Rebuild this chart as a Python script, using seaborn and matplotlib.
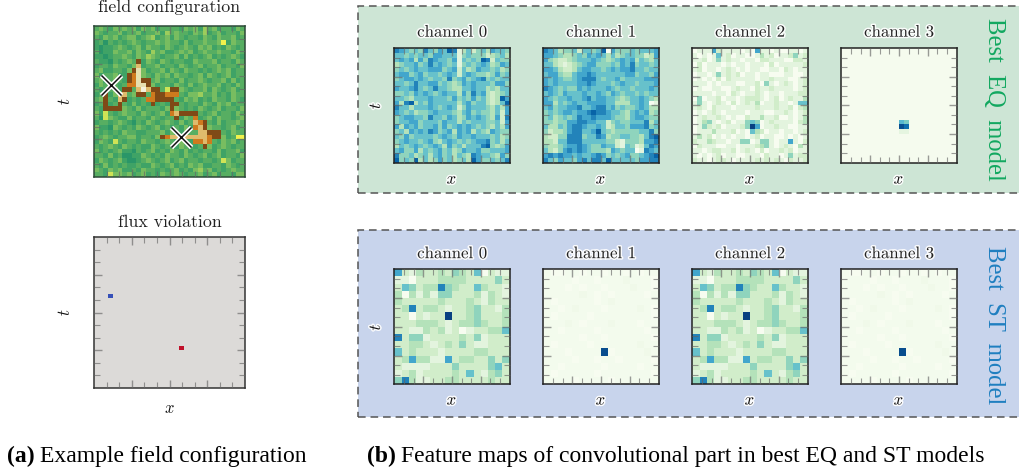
import numpy as np
import matplotlib
matplotlib.use("Agg")
import matplotlib.pyplot as plt
import matplotlib.patheffects as pe
from matplotlib.colors import ListedColormap
from matplotlib.patches import Rectangle
import seaborn as sns

W, H = 1019, 475

# ---------- data (level codes per cell) ----------
FIELD_LEVELS = "0123456botpw"
FIELD_COLORS = ["#2a9668", "#3fa366", "#57ae62", "#78bd60", "#9ccd5c", "#cfe356", "#f0f24c",
                "#7f4a17", "#cf7a1e", "#dfbb6c", "#e6e0b0", "#f4f2dc"]
FIELD = [
    "23213232 31323122 22132314 23122132",
    "32122312 23122314 23221324 12312213",
    "21323123 31234123 13212213 21322312",
    "12021212 32122323 22131223 22361322",
    "10112321 23132213 21232132 31213212",
    "20113223 13214231 12323123 22322132",
    "11012232 13243212 23131212 31212321",
    "21102123 2b132132 12211322 23122132",
    "12213221 3t122312 21321231 22312213",
    "23112213 bp312231 32132212 12323122",
    "3122311b op321323 13221231 32123122",
    "2312321b opbb2312 21312232 12231312",
    "1323212o oppb3122 13213123 22312132",
    "212231bb 2twtbb25 bb321223 13212312",
    "12b13tt2 3bb2obbo oo213342 23121322",
    "23b21tb1 212oobbb b2132312 13221321",
    "12b12b21 3121b121 bb212213 21323122",
    "21bbbb32 13122213 b3212132 12312213",
    "31521232 21321231 otbbbb21 23122132",
    "20532113 12213212 2b132o12 31322123",
    "12212321 02132123 21312tob 21312232",
    "31103212 13212312 12131otb 32212312",
    "21212132 21122231 321322tt bbb21322",
    "12321223 312213bo tttttttt obb31266",
    "13215212 21322123 21321oot o2132312",
    "21232132 12113212 2132212b 31232122",
    "31212311 02123121 32131212 21312231",
    "22131200 11321213 22132123 12312213",
    "13212310 01232123 12312212 21253122",
    "21312121 12113212 31213231 12213212",
    "32132311 21322121 23121342 31212322",
    "22153323 12312132 23212231 23122133",
]
DEFECTS_COL = [3.5, 18.45]
DEFECTS_ROW = [12.5, 23.5]

FLUX_SIZE = 32
FLUX_CELLS = [(12, 3, -1), (23, 18, 1)]
FLUX_COLORS = ["#3650b8", "#dcdad8", "#c0102a"]

EQ_CH0 = [
    "765454 754658 713524 536554", "554545 546655 514544 423453",
    "565636 476554 615454 872544", "345564 575654 514545 653465",
    "454565 566645 625346 554534", "566456 455456 525654 434645",
    "456656 545547 456456 745455", "554575 566454 346565 554664",
    "655675 457554 335565 534355", "445465 654565 536475 632345",
    "554355 565554 645464 532386", "637835 465555 535645 532358",
    "755355 565456 524655 543536", "654534 456555 435645 443526",
    "456655 475546 534656 543627", "455664 555465 535455 544526",
    "636564 556464 565654 543536", "453656 576456 365635 436544",
    "546455 554565 465565 554534", "456554 564356 545456 674535",
    "354565 456536 453555 784346", "564463 545645 346556 445556",
    "744534 535645 354376 554364", "845483 534645 345386 445457",
]
EQ_CH1 = [
    "765344 525545 806444 545556", "665433 454656 535345 544236",
    "643223 455565 434565 635435", "553212 345664 445465 745545",
    "665322 356655 456566 755455", "566433 566765 555556 645546",
    "656544 567775 455645 555666", "656555 566765 554565 545556",
    "765454 465655 565455 455565", "565465 556556 546545 545455",
    "654556 556756 655434 556543", "663545 655666 655333 556501",
    "564556 675567 756454 456533", "454566 566787 765543 565634",
    "453454 576676 665443 566544", "443446 677665 524544 555735",
    "533546 776556 523554 666745", "423346 775568 543444 445574",
    "322447 774557 634455 443578", "332557 775555 544214 443667",
    "433456 676544 655215 412576", "532467 676544 436545 501765",
    "676766 565567 645456 445678", "754655 467577 585555 546677",
]
EQ_CH2 = [
    "011162 111101 061101 001101", "101015 120110 013120 112412",
    "112014 121101 102211 100221", "020111 010110 111020 111112",
    "120110 121010 110011 021011", "011014 121201 101100 011001",
    "010102 021111 101121 110012", "111010 111001 120410 121012",
    "010011 001211 021121 111012", "111101 102101 121011 011122",
    "040112 011012 221012 012113", "141012 102012 130112 110155",
    "121021 110111 121112 112023", "010121 011110 111001 121012",
    "012112 101002 113112 001013", "013410 120114 540121 111023",
    "014212 011124 960112 110011", "011131 112010 532011 011012",
    "131201 010110 120110 010101", "211321 101144 014410 116102",
    "021110 011011 123410 121031", "110122 112012 102011 212011",
    "101012 011001 110211 014122", "211012 210111 121212 102112",
]
EQ_CH3_SIZE = 24
EQ_CH3_BASE = 0.015
EQ_CH3_CELLS = [(16, 12, 0.95), (16, 13, 0.85), (15, 12, 0.6), (15, 13, 0.5), (17, 12, 0.1), (17, 13, 0.1)]

ST_CH0 = [
    "6213 2232 4325 0211", "1102 2233 3322 2242", "2542 3374 3225 3221", "3031 3144 2223 1321",
    "3222 2232 2232 1322", "2372 3321 2234 2213", "2202 1229 2234 2223", "2223 3321 2334 3223",
    "2211 3231 2012 2335", "7244 1222 2324 1222", "2233 2123 2421 1222", "5232 2212 2223 3222",
    "2363 3116 2332 2424", "2111 1222 4222 2452", "1231 2222 3252 1342", "4731 1223 3222 2322",
]
ST_CH1 = [
    "1001 1011 0110 1011", "1111 0110 1112 1110", "1110 1011 0111 2110", "1111 1210 1011 1101",
    "1011 1110 1211 1111", "1101 2111 0111 1210", "1011 1101 1111 1110", "1112 1011 1211 1011",
    "1101 1110 1111 1101", "1111 1011 0111 1110", "1011 1101 1111 1211", "1110 1111 x011 1121",
    "1111 0110 1101 1110", "1101 1111 0111 1011", "1011 1110 1111 1110", "1111 0111 1011 1111",
]
ST_CH3 = ST_CH1
PEAK_VALUE = 0.96
FAINT_STEP = 0.02

TITLES = ["channel 0", "channel 1", "channel 2", "channel 3"]


def grid(rows, scale=1 / 9.0):
    out = []
    for r in rows:
        out.append([PEAK_VALUE if c == "x" else int(c) * scale for c in r.replace(" ", "")])
    return np.array(out, dtype=float)


def field_grid(rows):
    return np.array([[FIELD_LEVELS.index(c) for c in r.replace(" ", "")] for r in rows])


# ---------- layout helpers (pixels, origin top left) ----------
def rect_px(x0, y0, x1, y1):
    return [x0 / W, 1 - y1 / H, (x1 - x0) / W, (y1 - y0) / H]


def ftext(x, y, s, **kw):
    return fig.text(x / W, 1 - y / H, s, **kw)


sns.set_theme(style="white")
plt.rcParams["font.family"] = ["cmr10", "DejaVu Serif"]
plt.rcParams["mathtext.fontset"] = "cm"
plt.rcParams["axes.formatter.use_mathtext"] = True

fig = plt.figure(figsize=(W / 100, H / 100), dpi=100, facecolor="white")

halo = [pe.withStroke(linewidth=2.2, foreground="white", alpha=0.9)]
TITLE_FS = 12.1
SIDE_TITLE_FS = 12.9
LABEL_FS = 12

# band backgrounds
for (y0, y1, col) in [(5.5, 193, "#cde5d5"), (229.5, 417, "#c8d4ec")]:
    fig.add_artist(Rectangle((358 / W, 1 - y1 / H), 680 / W, (y1 - y0) / H,
                             transform=fig.transFigure, facecolor=col, edgecolor="#555555",
                             linewidth=1.1, linestyle=(0, (5, 3.2)), zorder=-5))


def panel(x0, y0, x1, y1, data, cmap, vmin, vmax, spine="#222222"):
    ax = fig.add_axes(rect_px(x0, y0, x1, y1))
    sns.heatmap(data, ax=ax, cmap=cmap, vmin=vmin, vmax=vmax, cbar=False,
                xticklabels=False, yticklabels=False, square=False, linewidths=0)
    ax.set_axisbelow(False)
    n_r, n_c = data.shape
    maj = [3, 6, 9]
    mnr = [1, 2, 4, 5, 7, 8, 10, 11]
    ax.set_xticks([k * n_c / 12 for k in maj])
    ax.set_xticks([k * n_c / 12 for k in mnr], minor=True)
    ax.set_yticks([k * n_r / 12 for k in maj])
    ax.set_yticks([k * n_r / 12 for k in mnr], minor=True)
    ax.set_xticklabels([])
    ax.set_yticklabels([])
    ax.tick_params(which="major", direction="in", top=True, bottom=True, left=True, right=True,
                   length=6.0, width=1.0, color=(0.4, 0.4, 0.4, 0.65))
    ax.tick_params(which="minor", direction="in", top=True, bottom=True, left=True, right=True,
                   length=4.0, width=0.8, color=(0.4, 0.4, 0.4, 0.65))
    for s in ax.spines.values():
        s.set_visible(True)
        s.set_color(spine)
        s.set_linewidth(1.1)
    return ax


# ---------- left column ----------
field_cmap = ListedColormap(FIELD_COLORS)
ax = panel(94, 26, 245, 177, field_grid(FIELD), field_cmap, -0.5, len(FIELD_COLORS) - 0.5, "#2c4a38")
for lw, col in [(3.4, "#ffffff"), (1.1, "#111111")]:
    ax.scatter(DEFECTS_COL, DEFECTS_ROW, marker="x", s=210, linewidths=lw, color=col, zorder=5 if lw > 2 else 6)

flux = np.zeros((FLUX_SIZE, FLUX_SIZE))
for r, c, v in FLUX_CELLS:
    flux[r, c] = v
panel(94, 237, 245, 388, flux, ListedColormap(FLUX_COLORS), -1, 1, "#333333")

ftext(169.5, 7, "field configuration", ha="center", va="center", fontsize=SIDE_TITLE_FS, color="#222222")
ftext(169.5, 222, "flux violation", ha="center", va="center", fontsize=SIDE_TITLE_FS, color="#222222")
ftext(65, 101.5, r"$t$", ha="center", va="center", rotation=90, fontsize=LABEL_FS, color="#111111")
ftext(65, 312.5, r"$t$", ha="center", va="center", rotation=90, fontsize=LABEL_FS, color="#111111")
ftext(169.5, 408, r"$x$", ha="center", va="center", fontsize=LABEL_FS, color="#111111")

# ---------- right bands ----------
cols_px = [(394.3, 509.7), (543.3, 658.7), (692.3, 807.7), (841.3, 956.7)]

eq3 = np.full((EQ_CH3_SIZE, EQ_CH3_SIZE), EQ_CH3_BASE)
for r, c, v in EQ_CH3_CELLS:
    eq3[r, c] = v
eq_maps = [grid(EQ_CH0), grid(EQ_CH1), grid(EQ_CH2), eq3]
st_maps = [grid(ST_CH0), grid(ST_CH1, FAINT_STEP), grid(ST_CH0), grid(ST_CH3, FAINT_STEP)]

for maps, y0, y1, ty, xy in [(eq_maps, 48, 162.7, 32, 179), (st_maps, 269.3, 384.3, 253.5, 400)]:
    for (x0, x1), m, title in zip(cols_px, maps, TITLES):
        panel(x0, y0, x1, y1, m, "GnBu", 0, 1)
        xc = (x0 + x1) / 2
        ftext(xc, ty, title, ha="center", va="center", fontsize=TITLE_FS, color="#222222", path_effects=halo)
        ftext(xc, xy, r"$x$", ha="center", va="center", fontsize=LABEL_FS, color="#111111", path_effects=halo)
    ftext(375, (y0 + y1) / 2, r"$t$", ha="center", va="center", rotation=90, fontsize=LABEL_FS,
          color="#111111", path_effects=halo)

serif = ["Liberation Serif", "DejaVu Serif"]
ftext(994, 99, "Best  EQ  model", ha="center", va="center", rotation=270, family=serif,
      fontsize=17.7, color="#12a860")
ftext(994, 325, "Best  ST  model", ha="center", va="center", rotation=270, family=serif,
      fontsize=17.7, color="#1f7fc0")

# ---------- captions ----------
for x, tag, cap in [(7, "(a)", "Example field configuration"),
                    (367, "(b)", "Feature maps of convolutional part in best EQ and ST models")]:
    t = ftext(x, 462, tag, ha="left", va="baseline", family=serif, fontweight="bold", fontsize=17, color="black")
    fig.canvas.draw()
    bb = t.get_window_extent()
    ftext(bb.x1 + 5, 462, cap, ha="left", va="baseline", family=serif, fontsize=17, color="black")

fig.savefig("out.png", dpi=100)
